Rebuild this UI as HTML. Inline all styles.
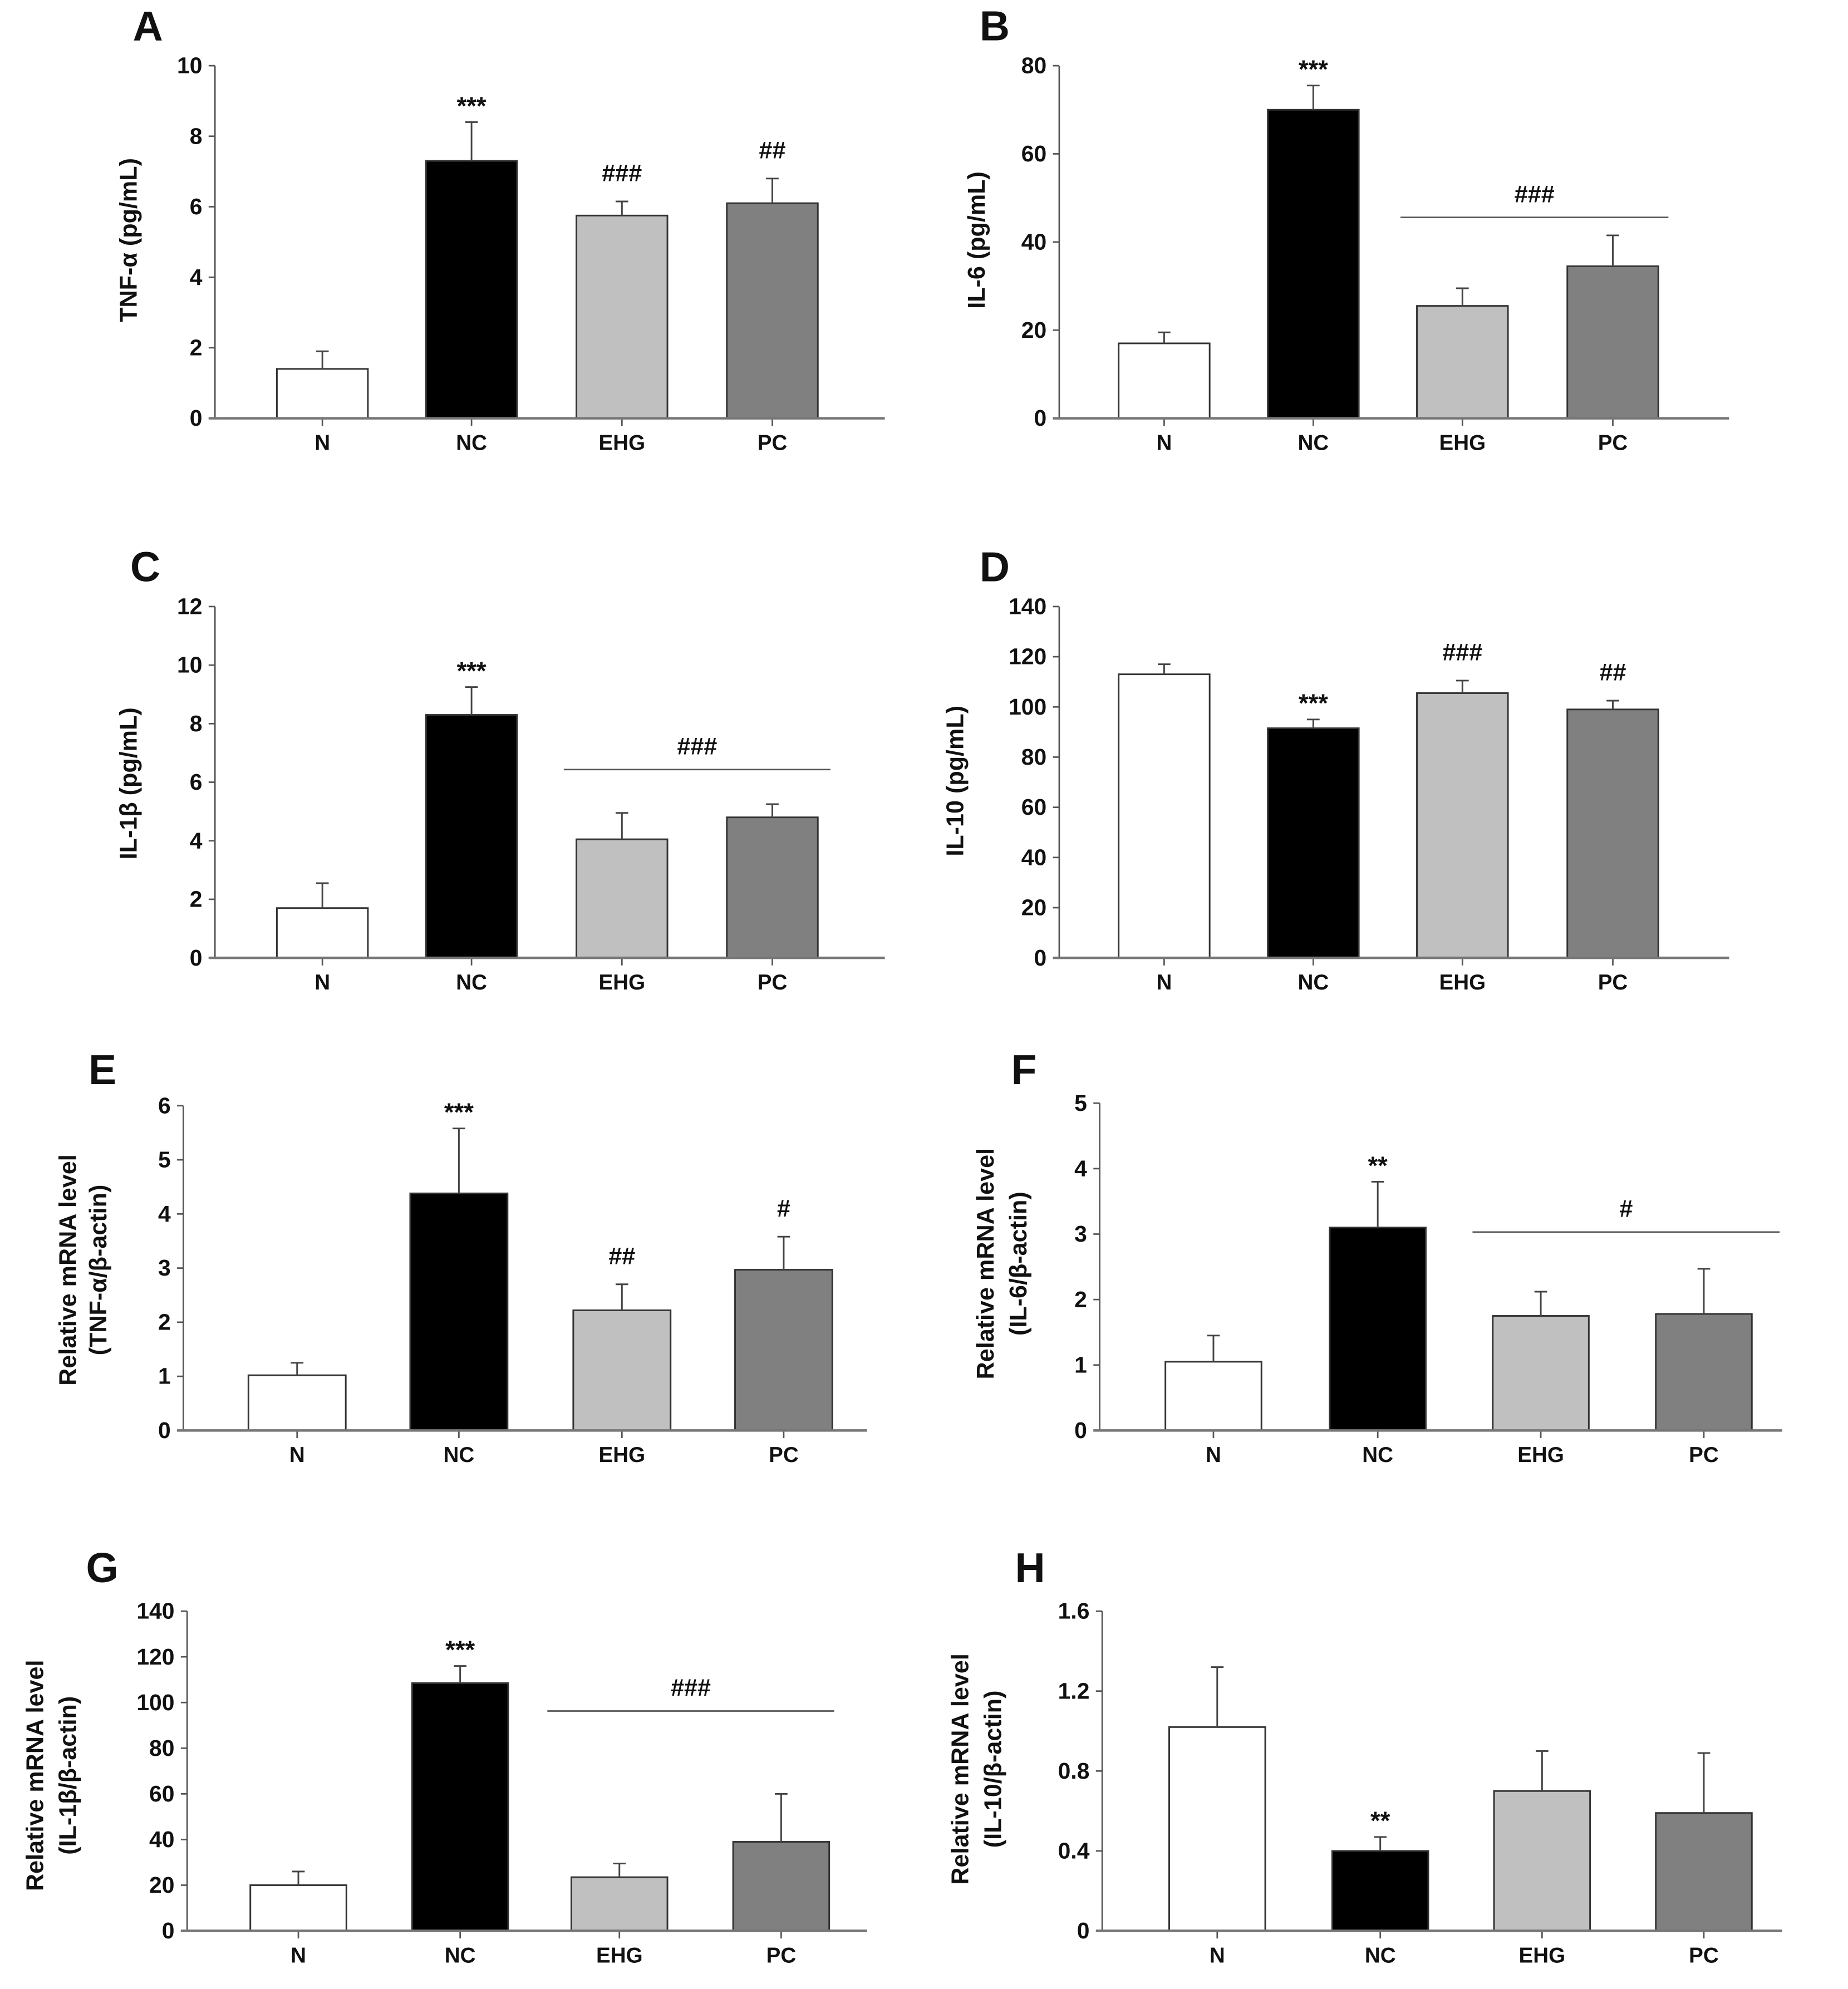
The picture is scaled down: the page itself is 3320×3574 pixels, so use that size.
<!DOCTYPE html>
<html><head><meta charset="utf-8">
<style>
html,body{margin:0;padding:0;background:#fff;}
svg{display:block;}
text{font-family:"Liberation Sans Narrow","Liberation Sans",sans-serif;font-weight:bold;fill:#111;}
.yl{font-family:"Liberation Sans Narrow","Liberation Sans",sans-serif;}
</style></head>
<body>
<svg id="fig" width="3320" height="3574" viewBox="0 0 1462 1574" xmlns="http://www.w3.org/2000/svg"></svg>
<script>
const categories = ["N","NC","EHG","PC"];
const fills = ["#ffffff","#000000","#c0c0c0","#808080"];

const valuesA = [1.4, 7.3, 5.75, 6.1];
const errorsA = [1.9, 8.4, 6.15, 6.8];
const ticksA = [0,2,4,6,8,10];
const valuesB = [17, 70, 25.5, 34.5];
const errorsB = [19.5, 75.5, 29.5, 41.5];
const ticksB = [0,20,40,60,80];
const valuesC = [1.7, 8.3, 4.05, 4.8];
const errorsC = [2.55, 9.25, 4.95, 5.25];
const ticksC = [0,2,4,6,8,10,12];
const valuesD = [113, 91.5, 105.5, 99];
const errorsD = [117, 95, 110.5, 102.5];
const ticksD = [0,20,40,60,80,100,120,140];
const valuesE = [1.02, 4.38, 2.22, 2.97];
const errorsE = [1.25, 5.58, 2.7, 3.58];
const ticksE = [0,1,2,3,4,5,6];
const valuesF = [1.05, 3.1, 1.75, 1.78];
const errorsF = [1.45, 3.8, 2.12, 2.47];
const ticksF = [0,1,2,3,4,5];
const valuesG = [20, 108.5, 23.5, 39];
const errorsG = [26, 116, 29.5, 60];
const ticksG = [0,20,40,60,80,100,120,140];
const valuesH = [1.02, 0.4, 0.7, 0.59];
const errorsH = [1.32, 0.47, 0.9, 0.89];
const ticksH = [0,0.4,0.8,1.2,1.6];
const tickLabelsH = ["0","0.4","0.8","1.2","1.6"];

const NS = "http://www.w3.org/2000/svg";
const svg = document.getElementById("fig");
function mk(tag, attrs, parent, txt){
  const e = document.createElementNS(NS, tag);
  for (const k in attrs) e.setAttribute(k, attrs[k]);
  if (txt !== undefined) e.textContent = txt;
  (parent||svg).appendChild(e);
  return e;
}

const panels = [
 {id:"a", letter:"A", lx:105, ly:32, ax:170, top:52, zero:331, xend:700, centers:[255,373,492,611], bw:72, max:10, vals:valuesA, errs:errorsA, ticks:ticksA,
  ylab:["TNF-α (pg/mL)"], ylx:[108], yly:190, marks:[[1,"***"],[2,"###"],[3,"##"]], line:null},
 {id:"b", letter:"B", lx:775, ly:32, ax:838, top:52, zero:331, xend:1368, centers:[921,1039,1157,1276], bw:72, max:80, vals:valuesB, errs:errorsB, ticks:ticksB,
  ylab:["IL-6 (pg/mL)"], ylx:[779], yly:190, marks:[[1,"***"]], line:{x1:1108,x2:1320,y:172,t:"###"}},
 {id:"c", letter:"C", lx:103, ly:460, ax:170, top:480, zero:758, xend:700, centers:[255,373,492,611], bw:72, max:12, vals:valuesC, errs:errorsC, ticks:ticksC,
  ylab:["IL-1β (pg/mL)"], ylx:[108], yly:620, marks:[[1,"***"]], line:{x1:446,x2:657,y:609,t:"###"}},
 {id:"d", letter:"D", lx:775, ly:460, ax:838, top:480, zero:758, xend:1368, centers:[921,1039,1157,1276], bw:72, max:140, vals:valuesD, errs:errorsD, ticks:ticksD,
  ylab:["IL-10 (pg/mL)"], ylx:[762], yly:618, marks:[[1,"***"],[2,"###"],[3,"##"]], line:null},
 {id:"e", letter:"E", lx:70, ly:858, ax:145, top:875, zero:1132, xend:686, centers:[235,363,492,620], bw:77, max:6, vals:valuesE, errs:errorsE, ticks:ticksE,
  ylab:["Relative mRNA level","(TNF-α/β-actin)"], ylx:[60,84], yly:1005, marks:[[1,"***"],[2,"##"],[3,"#"]], line:null},
 {id:"f", letter:"F", lx:800, ly:858, ax:870, top:873, zero:1132, xend:1410, centers:[960,1090,1219,1348], bw:76, max:5, vals:valuesF, errs:errorsF, ticks:ticksF,
  ylab:["Relative mRNA level","(IL-6/β-actin)"], ylx:[786,812], yly:1000, marks:[[1,"**"]], line:{x1:1165,x2:1408,y:975,t:"#"}},
 {id:"g", letter:"G", lx:68, ly:1252, ax:148, top:1275, zero:1528, xend:686, centers:[236,364,490,618], bw:76, max:140, vals:valuesG, errs:errorsG, ticks:ticksG,
  ylab:["Relative mRNA level","(IL-1β/β-actin)"], ylx:[34,60], yly:1405, marks:[[1,"***"]], line:{x1:433,x2:660,y:1354,t:"###"}},
 {id:"h", letter:"H", lx:803, ly:1252, ax:872, top:1275, zero:1528, xend:1410, centers:[963,1092,1220,1348], bw:76, max:1.6, vals:valuesH, errs:errorsH, ticks:ticksH, tlabels:tickLabelsH,
  ylab:["Relative mRNA level","(IL-10/β-actin)"], ylx:[766,792], yly:1400, marks:[[1,"**"]], line:null}
];

panels.forEach(p => {
  const g = mk("g", {});
  
  
  const y = v => p.zero - (v / p.max) * (p.zero - p.top);

  const L = mk("text", {x:p.lx, y:p.ly, "font-size":33, "font-family":"Liberation Sans, sans-serif"}, g, p.letter);
  
  

  const ya = mk("line", {x1:p.ax, y1:p.top, x2:p.ax, y2:p.zero, stroke:"#555", "stroke-width":1.2}, g);
  
  
  p.ticks.forEach((t, i) => {
    mk("line", {x1:p.ax-5, y1:y(t), x2:p.ax, y2:y(t), stroke:"#555", "stroke-width":1.2}, g);
    const tl = mk("text", {x:p.ax-10, y:y(t)+6, "font-size":18, "text-anchor":"end"}, g, p.tlabels ? p.tlabels[i] : String(t));
    
    
  });
  p.ylab.forEach((s, i) => {
    const yt = mk("text", {x:p.ylx[i], y:p.yly, "font-size":19, "text-anchor":"middle", class:"yl", transform:`rotate(-90 ${p.ylx[i]} ${p.yly})`}, g, s);
    
    
  });

  categories.forEach((c, i) => {
    const cx = p.centers[i];
    const top = y(p.vals[i]);
    const r = mk("rect", {x:cx-p.bw/2, y:top, width:p.bw, height:p.zero-top, fill:fills[i], stroke:"#333", "stroke-width":1.3}, g);
    
    
    const ey = y(p.errs[i]);
    const eb = mk("path", {d:`M${cx} ${top} V${ey} M${cx-5} ${ey} H${cx+5}`, stroke:"#444", "stroke-width":1.3, fill:"none"}, g);
    
    
    mk("line", {x1:cx, y1:p.zero, x2:cx, y2:p.zero+6, stroke:"#555", "stroke-width":1.2}, g);
    const xl = mk("text", {x:cx, y:p.zero+25, "font-size":17, "text-anchor":"middle"}, g, c);
    
    
  });

  const xa = mk("line", {x1:p.ax-5, y1:p.zero, x2:p.xend, y2:p.zero, stroke:"#777", "stroke-width":2}, g);
  
  

  p.marks.forEach(m => {
    const i = m[0];
    const isStar = m[1].indexOf("*") >= 0;
    const ty = y(p.errs[i]) - (isStar ? 14 : 16);
    const t = mk("text", {x:p.centers[i], y:ty + (isStar ? 8 : 0), "font-size":isStar ? 20 : 19, "text-anchor":"middle"}, g, m[1]);
    
    
  });
  if (p.line) {
    const ln = mk("line", {x1:p.line.x1, y1:p.line.y, x2:p.line.x2, y2:p.line.y, stroke:"#555", "stroke-width":1.2}, g);
    
    
    const t = mk("text", {x:(p.line.x1+p.line.x2)/2, y:p.line.y-12, "font-size":19, "text-anchor":"middle"}, g, p.line.t);
    
    
  }
});
</script>
</body></html>
